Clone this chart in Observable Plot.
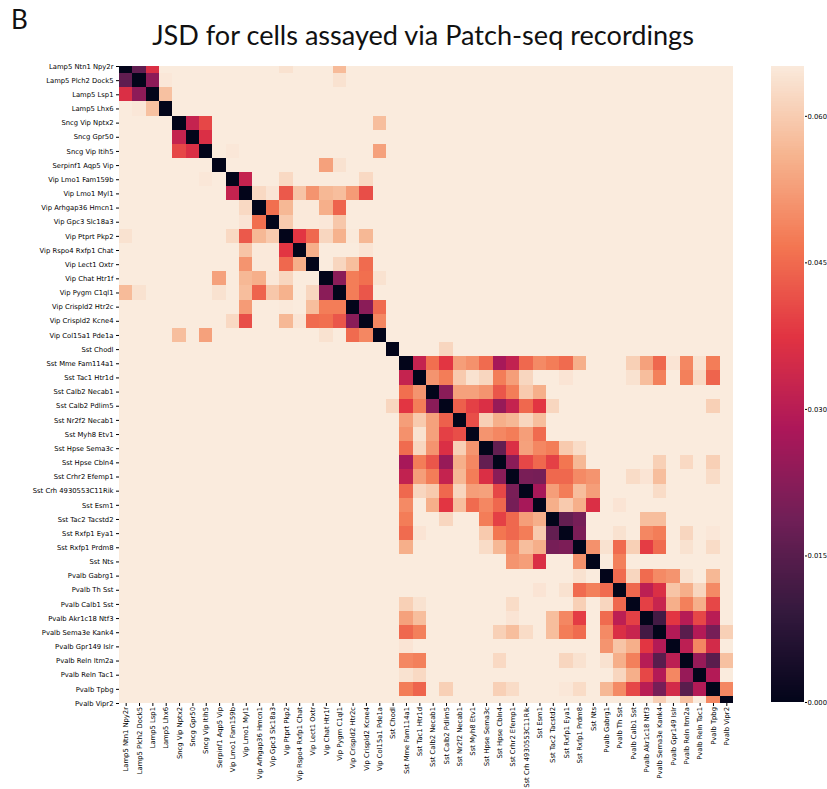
<!DOCTYPE html>
<html>
<head>
<meta charset="utf-8">
<script src="https://cdn.jsdelivr.net/npm/d3@7"></script>
<script src="https://cdn.jsdelivr.net/npm/@observablehq/plot@0.6"></script>
<style>
html,body{margin:0;padding:0;background:#fff;}
#wrap{position:relative;width:827px;height:789px;overflow:hidden;}
#wrap svg{position:absolute;left:0;top:0;background:transparent;}
#panel{position:absolute;left:11px;top:0px;font:26px "Lato",sans-serif;color:#111;line-height:38px;}
#title{position:absolute;left:0;width:846px;top:16px;text-align:center;font:27.1px "Lato",sans-serif;color:#111;line-height:38px;white-space:nowrap;}
</style>
</head>
<body>
<div id="wrap">
<div id="panel">B</div>
<div id="title">JSD for cells assayed via Patch-seq recordings</div>
</div>
<script>
const cellTypes = ["Lamp5 Ntn1 Npy2r","Lamp5 Plch2 Dock5","Lamp5 Lsp1","Lamp5 Lhx6","Sncg Vip Nptx2","Sncg Gpr50","Sncg Vip Itih5","Serpinf1 Aqp5 Vip","Vip Lmo1 Fam159b","Vip Lmo1 Myl1","Vip Arhgap36 Hmcn1","Vip Gpc3 Slc18a3","Vip Ptprt Pkp2","Vip Rspo4 Rxfp1 Chat","Vip Lect1 Oxtr","Vip Chat Htr1f","Vip Pygm C1ql1","Vip Crispld2 Htr2c","Vip Crispld2 Kcne4","Vip Col15a1 Pde1a","Sst Chodl","Sst Mme Fam114a1","Sst Tac1 Htr1d","Sst Calb2 Necab1","Sst Calb2 Pdlim5","Sst Nr2f2 Necab1","Sst Myh8 Etv1","Sst Hpse Sema3c","Sst Hpse Cbln4","Sst Crhr2 Efemp1","Sst Crh 4930553C11Rik","Sst Esm1","Sst Tac2 Tacstd2","Sst Rxfp1 Eya1","Sst Rxfp1 Prdm8","Sst Nts","Pvalb Gabrg1","Pvalb Th Sst","Pvalb Calb1 Sst","Pvalb Akr1c18 Ntf3","Pvalb Sema3e Kank4","Pvalb Gpr149 Islr","Pvalb Reln Itm2a","Pvalb Reln Tac1","Pvalb Tpbg","Pvalb Vipr2"];

// Upper triangle of the symmetric matrix, by row: [column index, JSD].
const upperRows = {
0:[[1,.016],[2,.036],[12,.0635],[16,.057]],
1:[[2,.023],[3,.0645],[16,.0635]],
2:[[3,.058]],
4:[[5,.032],[6,.040],[19,.0575]],
5:[[6,.036]],
6:[[8,.0645],[19,.053]],
7:[[15,.053],[16,.0635]],
8:[[9,.032],[12,.062],[18,.062]],
9:[[10,.062],[11,.064],[12,.0425],[13,.0585],[14,.051],[15,.0565],[16,.0575],[17,.052],[18,.041]],
10:[[11,.0455],[12,.0565],[13,.0648],[14,.0648],[15,.055],[16,.044]],
11:[[12,.0595],[13,.0648],[14,.0648],[15,.0645],[16,.059]],
12:[[13,.0375],[14,.0445],[15,.0615],[16,.0555],[17,.0648],[18,.0565]],
13:[[14,.055],[18,.064]],
14:[[16,.0615],[17,.0575],[18,.045]],
15:[[16,.0225],[17,.0475],[18,.0455],[19,.0635]],
16:[[17,.0475],[18,.042]],
17:[[18,.0225],[19,.045]],
18:[[19,.049]],
20:[[24,.0615]],
21:[[22,.032],[23,.0455],[24,.0375],[25,.0525],[26,.0505],[27,.045],[28,.027],[29,.0315],[30,.0445],[31,.0495],[32,.0475],[33,.045],[34,.055],[38,.0605],[39,.053],[40,.0445],[41,.064],[42,.049],[43,.0635],[44,.0475]],
22:[[23,.051],[24,.0475],[25,.0595],[26,.0635],[27,.0615],[28,.0475],[29,.0525],[30,.0615],[33,.064],[38,.0635],[39,.0575],[40,.048],[42,.048],[43,.062],[44,.044]],
23:[[24,.0225],[25,.053],[26,.053],[27,.051],[28,.042],[29,.0475],[30,.0595],[31,.055]],
24:[[25,.0435],[26,.039],[27,.036],[28,.0245],[29,.032],[30,.0445],[31,.0375],[32,.0615],[44,.0605]],
25:[[26,.041],[27,.0605],[28,.055],[29,.0565],[30,.0615],[31,.0575]],
26:[[27,.051],[28,.049],[29,.0475],[30,.0525],[31,.045]],
27:[[28,.0165],[29,.036],[30,.053],[31,.049],[32,.0475],[33,.0595],[34,.0625]],
28:[[29,.0225],[30,.040],[31,.0445],[32,.039],[33,.0465],[34,.0565],[40,.0605],[42,.062],[44,.0605]],
29:[[30,.020],[31,.0195],[32,.0445],[33,.0445],[34,.0495],[35,.051],[38,.0625],[39,.064],[40,.0575],[44,.0625]],
30:[[31,.027],[32,.0525],[33,.0475],[34,.0575],[35,.0525],[40,.0625]],
31:[[32,.055],[33,.0595],[34,.055],[35,.036],[37,.064]],
32:[[33,.0165],[34,.0195],[39,.0575],[40,.0575]],
33:[[34,.0205],[37,.0635],[39,.049],[40,.0475],[42,.0615],[44,.0645]],
34:[[35,.0505],[36,.0635],[37,.045],[38,.0605],[39,.0385],[40,.045],[42,.0635],[44,.0625]],
35:[[37,.048]],
36:[[37,.045],[38,.0615],[39,.045],[40,.0495],[41,.051],[42,.0635],[44,.0565]],
37:[[38,.0445],[39,.0305],[40,.036],[41,.0585],[42,.055],[43,.0615],[44,.0495]],
38:[[39,.039],[40,.0325],[41,.055],[42,.048],[43,.055],[44,.040]],
39:[[40,.0115],[41,.0375],[42,.0295],[43,.040],[44,.030]],
40:[[41,.029],[42,.015],[43,.029],[44,.0195],[45,.0605]],
41:[[42,.0305],[43,.049],[44,.0345]],
42:[[43,.0245],[44,.015],[45,.058]],
43:[[44,.029]],
44:[[45,.049]]
};

const backgroundJsd = 0.0651;
const barTicks = [0, 0.015, 0.03, 0.045, 0.06];
const rocketStops = ["#03051a","#35193e","#701f57","#ad1759","#e13342","#f37651","#f6b48f","#faebdd"];

const n = cellTypes.length;
const matrix = d3.range(n).map(() => d3.range(n).map(() => backgroundJsd));
for (let i = 0; i < n; i++) matrix[i][i] = 0;
for (const [row, rowCells] of Object.entries(upperRows)) {
  for (const [col, v] of rowCells) { matrix[+row][col] = v; matrix[col][+row] = v; }
}
const cells = d3.cross(d3.range(n), d3.range(n)).map(([r, c]) => ({
  row: cellTypes[r], col: cellTypes[c], v: matrix[r][c]
}));

const ramp = d3.piecewise(d3.interpolateRgb, rocketStops);
const colorScale = {type: "linear", domain: [0, backgroundJsd], interpolate: (t) => ramp(t), clamp: true};

const W = 827, H = 789, frameLeft = 119, frameRight = 733, frameTop = 66, frameBottom = 703;
const halfRow = (frameBottom - frameTop) / (n - 1) / 2;
const labelFont = "'DejaVu Sans',sans-serif";

const heat = Plot.plot({
  width: W, height: H,
  marginLeft: frameLeft, marginRight: W - frameRight, marginTop: frameTop, marginBottom: H - frameBottom,
  style: {fontFamily: labelFont, fontSize: "6.8px", color: "#000", background: "transparent"},
  x: {type: "band", domain: cellTypes, padding: 0, round: false, range: [frameLeft, frameRight], label: null},
  y: {type: "band", domain: cellTypes, padding: 0, round: false, range: [frameTop - halfRow, frameBottom + halfRow], label: null},
  color: colorScale,
  marks: [
    Plot.cell(cells, {x: "col", y: "row", fill: "v", clip: true, shapeRendering: "crispEdges", inset: 0}),
    Plot.axisX({anchor: "bottom", tickSize: 3, tickPadding: 0.5, tickRotate: -90, fontSize: 6.8, fontFamily: labelFont, label: null}),
    Plot.axisY({anchor: "left", tickSize: 3, tickPadding: 3, fontSize: 6.8, fontFamily: labelFont, label: null})
  ]
});

const barSteps = 256;
const barLevels = d3.range(barSteps).map(i => i / barSteps * backgroundJsd);
const bar = Plot.plot({
  width: W, height: H,
  marginLeft: 771, marginRight: W - 804, marginTop: frameTop, marginBottom: H - 702,
  style: {fontFamily: labelFont, fontSize: "6.8px", color: "#000", background: "transparent"},
  x: {domain: [0, 1], axis: null},
  y: {domain: [0, backgroundJsd], label: null},
  color: colorScale,
  marks: [
    Plot.rect(barLevels, {x1: 0, x2: 1, y1: d => d, y2: d => d + backgroundJsd / barSteps, fill: d => d, shapeRendering: "crispEdges", inset: 0}),
    Plot.axisY({anchor: "right", ticks: barTicks, tickFormat: ".3f", tickSize: 2, tickPadding: 1, fontSize: 6.8, fontFamily: labelFont, label: null})
  ]
});

const wrap = document.getElementById("wrap");
wrap.append(heat, bar);
</script>
</body>
</html>
